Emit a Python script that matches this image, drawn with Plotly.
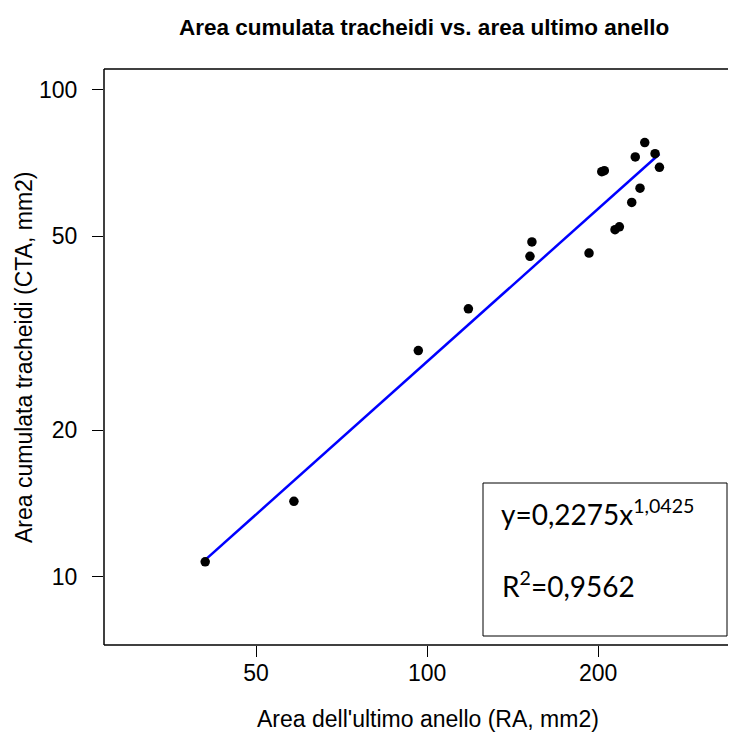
import numpy as np
import plotly.graph_objects as go

# Data (RA, CTA in mm2)
ra = [40.7, 58.3, 96.5, 118.2, 152.9, 151.7, 192.7, 202.9, 205.0, 214.1, 217.9,
      229.1, 236.9, 232.4, 241.5, 251.8, 256.3]
cta = [10.74, 14.3, 29.15, 35.5, 48.7, 45.5, 46.2, 67.9, 68.2, 51.6, 52.3,
       58.7, 62.8, 72.8, 77.9, 73.9, 69.3]

coef_a = 0.2275
coef_b = 1.0425
x_ticks = [50, 100, 200]
y_ticks = [10, 20, 50, 100]

title_text = "Area cumulata tracheidi vs. area ultimo anello"
x_label = "Area dell'ultimo anello (RA, mm2)"
y_label = "Area cumulata tracheidi (CTA, mm2)"
eq_text = "y=0,2275x<sup>1,0425</sup>"
r2_text = "R<sup>2</sup>=0,9562"

x_fit = np.array([min(ra), max(ra)])
y_fit = coef_a * x_fit ** coef_b

OFF = 8  # page body margin
W, H = 736 - OFF, 733 - OFF
L, R, T, B = 104 - OFF, 0, 69 - OFF, 733 - 645
pw, ph = W - L - R, H - T - B

def px(x):
    return (x - OFF - L) / pw

def py(y):
    return (H - B - (y - OFF)) / ph

fig = go.Figure()
fig.add_trace(go.Scatter(x=x_fit, y=y_fit, mode="lines",
                         line=dict(color="#0000FF", width=2.5),
                         hoverinfo="skip", showlegend=False))
fig.add_trace(go.Scatter(x=ra, y=cta, mode="markers",
                         marker=dict(color="black", size=9.5, line=dict(width=0)),
                         showlegend=False))

axis_font = dict(family="Liberation Sans, Arial, sans-serif", size=23, color="black")

fig.update_xaxes(type="log", range=[1.43155, 2.54345], tickvals=x_ticks,
                 ticktext=[str(v) for v in x_ticks], ticks="outside", ticklen=11,
                 tickwidth=1, tickcolor="black", showgrid=False, zeroline=False,
                 showline=False, tickfont=axis_font, ticklabelstandoff=-4)
fig.update_yaxes(type="log", range=[0.86037, 2.04251], tickvals=y_ticks,
                 ticktext=[str(v) for v in y_ticks], ticks="outside", ticklen=11,
                 tickwidth=1, tickcolor="black", showgrid=False, zeroline=False,
                 showline=False, tickfont=axis_font, ticklabelstandoff=10)

# plot frame (right side falls outside the picture)
for x0, y0, x1, y1 in [(0, 0, 0, 1), (0, 0, 1.01, 0), (0, 1, 1.01, 1)]:
    fig.add_shape(type="line", xref="paper", yref="paper", x0=x0, y0=y0, x1=x1, y1=y1,
                  line=dict(color="black", width=1.5))

# equation box
fig.add_shape(type="rect", xref="paper", yref="paper",
              x0=px(483), x1=px(727), y0=py(636), y1=py(483),
              line=dict(color="black", width=1), fillcolor="white", layer="above")

eq_font = dict(family="Lato, Open Sans, sans-serif", size=28, color="black")
fig.add_annotation(text=eq_text, xref="paper", yref="paper", x=px(499), y=py(512),
                   xanchor="left", yanchor="middle", showarrow=False, font=eq_font)
fig.add_annotation(text=r2_text, xref="paper", yref="paper", x=px(500), y=py(584),
                   xanchor="left", yanchor="middle", showarrow=False, font=eq_font)

# titles
fig.add_annotation(text="<b>" + title_text + "</b>", xref="paper", yref="paper",
                   x=px(424), y=py(28), xanchor="center", yanchor="middle", showarrow=False,
                   font=dict(family="Liberation Sans, Arial, sans-serif", size=22.5, color="black"))
fig.add_annotation(text=x_label, xref="paper", yref="paper",
                   x=px(428), y=py(719), xanchor="center", yanchor="middle", showarrow=False,
                   font=axis_font)
fig.add_annotation(text=y_label, xref="paper", yref="paper",
                   x=px(24), y=py(357), xanchor="center", yanchor="middle", showarrow=False,
                   textangle=-90, font=axis_font)

fig.update_layout(width=W, height=H, margin=dict(l=L, r=R, t=T, b=B),
                  paper_bgcolor="white", plot_bgcolor="white", showlegend=False)

fig.write_html("out.html")
